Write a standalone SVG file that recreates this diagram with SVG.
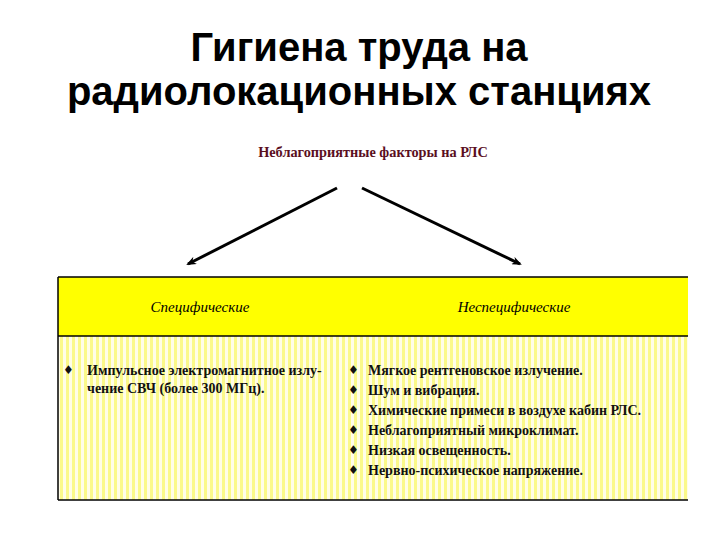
<svg xmlns="http://www.w3.org/2000/svg" width="720" height="540" viewBox="0 0 720 540">
<defs>
<pattern id="stripes" x="0" y="0" width="6" height="6" patternUnits="userSpaceOnUse">
<rect width="6" height="6" fill="#fffde8"/>
<rect x="0" width="3" height="6" fill="#fbf98a"/>
</pattern>
<marker id="ah" markerWidth="10" markerHeight="8" refX="8" refY="4" orient="auto" markerUnits="userSpaceOnUse">
<path d="M0,0 L10,4 L0,8 L3,4 Z" fill="#000"/>
</marker>
</defs>
<style>
.title{font-family:"Liberation Sans",Arial,sans-serif;font-weight:bold;font-size:40px;fill:#000;text-anchor:middle}
.sub{font-family:"Liberation Serif","Times New Roman",serif;font-weight:bold;font-size:14.3px;fill:#5a0f1e;text-anchor:middle}
.hdr{font-family:"Liberation Serif","Times New Roman",serif;font-style:italic;font-size:15px;fill:#000;text-anchor:middle}
.item{font-family:"Liberation Serif","Times New Roman",serif;font-weight:bold;font-size:14px;fill:#111}
.bul{font-family:"DejaVu Sans",sans-serif;font-size:12px;fill:#111}
.edge{stroke:#000;stroke-width:3;fill:none;marker-end:url(#ah)}
.rule{stroke:#000;stroke-width:1.5}
</style>
<rect width="720" height="540" fill="#fff"/>
<g id="title">
<text class="title" x="359" y="61">Гигиена труда на</text>
<text class="title" x="359" y="105">радиолокационных станциях</text>
</g>
<g id="root">
<text class="sub" x="373" y="157">Неблагоприятные факторы на РЛС</text>
</g>
<g id="connectors">
<line class="edge" x1="337" y1="188" x2="188" y2="264"/>
<line class="edge" x1="362" y1="188" x2="520" y2="264"/>
</g>
<g id="table">
<rect x="58" y="277" width="630" height="59" fill="#ffff00"/>
<rect x="58" y="336" width="630" height="164" fill="url(#stripes)"/>
<line class="rule" x1="58" y1="277" x2="688" y2="277"/>
<line class="rule" x1="58" y1="336" x2="688" y2="336"/>
<line class="rule" x1="58" y1="500" x2="688" y2="500"/>
<line class="rule" x1="58" y1="277" x2="58" y2="500"/>
</g>
<g id="specific">
<text class="hdr" x="200" y="312">Специфические</text>
<text class="bul" x="63" y="374">♦</text>
<text class="item" x="87" y="375">Импульсное электромагнитное излу-</text>
<text class="item" x="87" y="393">чение СВЧ (более 300 МГц).</text>
</g>
<g id="nonspecific">
<text class="hdr" x="514" y="312">Неспецифические</text>
<text class="bul" x="348" y="374">♦</text>
<text class="item" x="368" y="375">Мягкое рентгеновское излучение.</text>
<text class="bul" x="348" y="394">♦</text>
<text class="item" x="368" y="395">Шум и вибрация.</text>
<text class="bul" x="348" y="414">♦</text>
<text class="item" x="368" y="415">Химические примеси в воздухе кабин РЛС.</text>
<text class="bul" x="348" y="434">♦</text>
<text class="item" x="368" y="435">Неблагоприятный микроклимат.</text>
<text class="bul" x="348" y="454">♦</text>
<text class="item" x="368" y="455">Низкая освещенность.</text>
<text class="bul" x="348" y="474">♦</text>
<text class="item" x="368" y="475">Нервно-психическое напряжение.</text>
</g>
</svg>
